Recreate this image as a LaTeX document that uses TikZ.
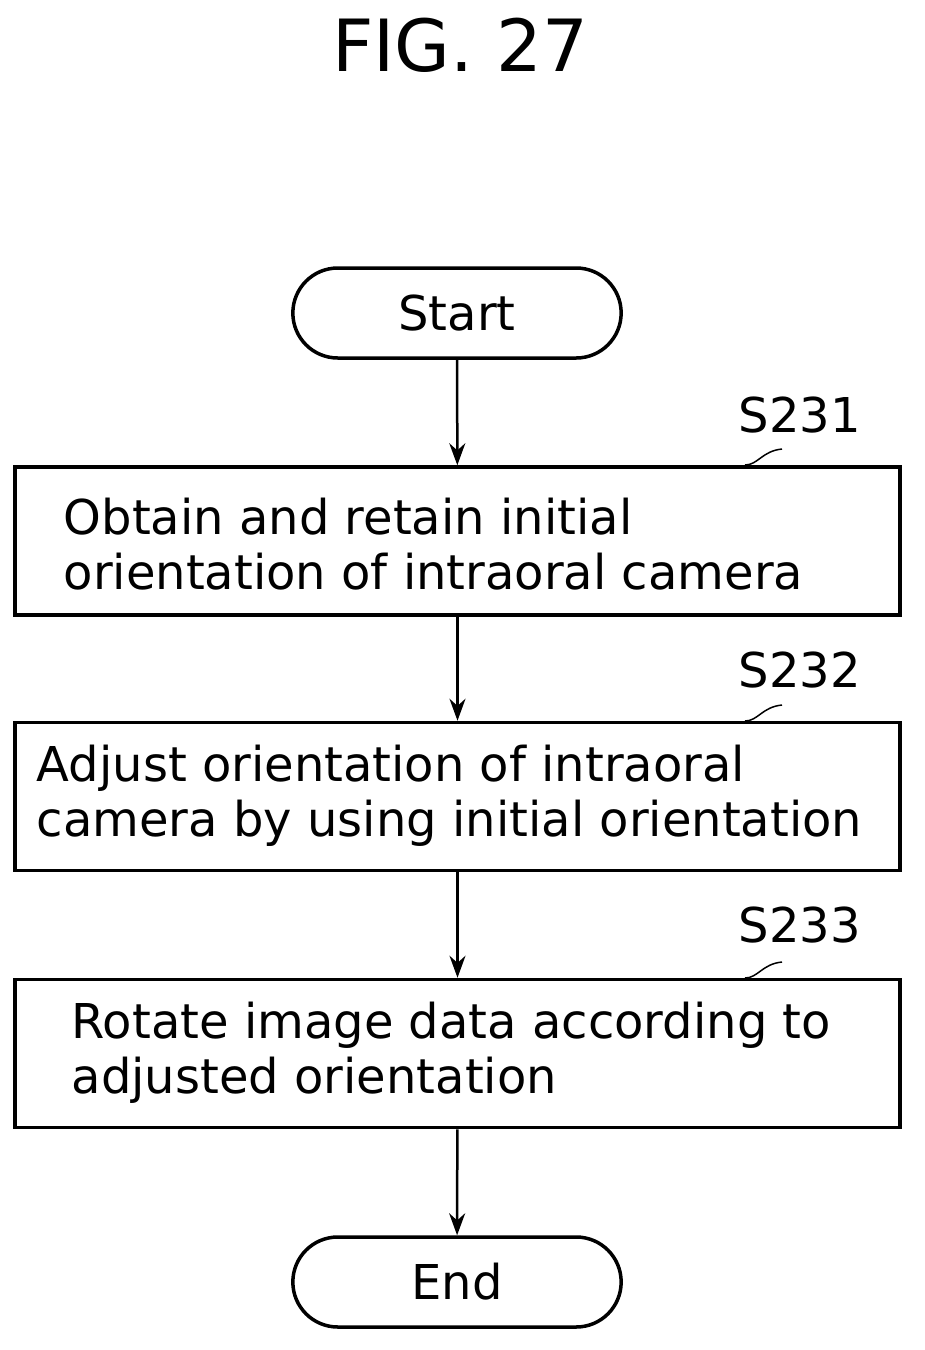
\documentclass[tikz,border=0pt]{standalone}
\usepackage{fontspec}
\setmainfont{DejaVu Sans}
\usetikzlibrary{arrows.meta,shapes.misc}
\begin{document}
\begin{tikzpicture}[x=1pt,y=-1pt,
  line width=3.5pt,
  term/.style={draw,rounded rectangle,minimum width=335pt,minimum height=90pt,font=\fontsize{48}{48}\selectfont},
  proc/.style={draw,minimum width=885pt,minimum height=148pt},
  txt/.style={anchor=west,font=\fontsize{48}{55}\selectfont,align=left,inner sep=0pt},
  lab/.style={font=\fontsize{48}{48}\selectfont},
  arr/.style={-{Stealth[length=22pt,width=16pt]},line width=2.5pt}]
\useasboundingbox (0,0) rectangle (925,1350);
\node[font=\fontsize{72}{72}\selectfont] (title) at (460,45) {FIG. 27};
\node[term] (start) at (457,313) {Start};
\node[proc] (b1) at (457.5,541) {};
\node[txt] (t1) at (62,544) {Obtain and retain initial\\orientation of intraoral camera};
\node[proc] (b2) at (457.5,796.5) {};
\node[txt] (t2) at (35,796) {Adjust orientation of intraoral\\camera by using initial orientation};
\node[proc] (b3) at (457.5,1053.5) {};
\node[txt] (t3) at (70,1053) {Rotate image data according to\\adjusted orientation};
\node[term] (end) at (457,1282) {End};
\node[lab] (l1) at (800,415) {S231};
\node[lab] (l2) at (800,670) {S232};
\node[lab] (l3) at (800,925) {S233};
\draw[arr] (start) -- (b1);
\draw[arr] (b1) -- (b2);
\draw[arr] (b2) -- (b3);
\draw[arr] (b3) -- (end);
\foreach \y/\l in {467/l1,723/l2,980/l3}{
  \coordinate (s\l) at (745,\y-2);
  \coordinate (e\l) at (782,\y-18);
  \draw[line width=1.5pt] (s\l) .. controls (758,\y-2) and (762,\y-16) .. (e\l);
}
\end{tikzpicture}
\end{document}
